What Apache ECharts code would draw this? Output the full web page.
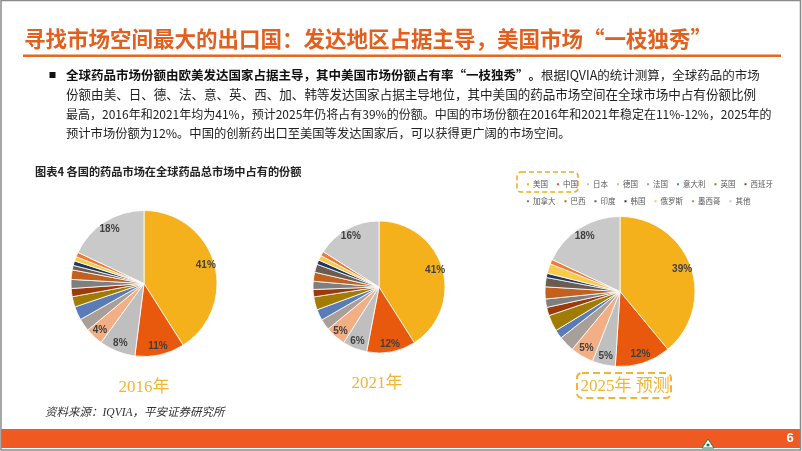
<!DOCTYPE html>
<html>
<head>
<meta charset="utf-8">
<script src="https://cdn.jsdelivr.net/npm/echarts@6/dist/echarts.min.js"></script>
<style>html,body{margin:0;padding:0;background:#fff;}#main{width:802px;height:451px;}</style>
</head>
<body>
<div id="main"></div>
<script>
// ---- data ----
const countries = ['美国','中国','日本','德国','法国','意大利','英国','西班牙','加拿大','巴西','印度','韩国','俄罗斯','墨西哥','其他'];
const share2016 = [41, 11, 8, 4, 2.8, 3, 2.3, 1.8, 2, 2.1, 1, 1, 1, 1, 18];
const share2021 = [41, 12, 6, 5, 2.7, 2.7, 3.2, 1.8, 2, 2.2, 2, 1.1, 1.2, 1.1, 16];
const share2025 = [39, 12, 5, 5, 3.4, 1.9, 3.5, 1.8, 1.8, 2.6, 2, 0.9, 2.1, 1, 18];
const yearLabels = ['2016年', '2021年', '2025年 预测'];
const labelledCountries = ['美国','中国','日本','德国','其他'];
const legendRow1 = countries.slice(0, 8);
const legendRow2 = countries.slice(8);

const titleText = '寻找市场空间最大的出口国：发达地区占据主导，美国市场“一枝独秀”';
const paraBold = '全球药品市场份额由欧美发达国家占据主导，其中美国市场份额占有率“一枝独秀”。';
const paraLines = [
  '根据IQVIA的统计测算，全球药品的市场',
  '份额由美、日、德、法、意、英、西、加、韩等发达国家占据主导地位，其中美国的药品市场空间在全球市场中占有份额比例',
  '最高，2016年和2021年均为41%，预计2025年仍将占有39%的份额。中国的市场份额在2016年和2021年稳定在11%-12%，2025年的',
  '预计市场份额为12%。中国的创新药出口至美国等发达国家后，可以获得更广阔的市场空间。'
];
const captionText = '图表4 各国的药品市场在全球药品总市场中占有的份额';
const sourceText = '资料来源：IQVIA，平安证券研究所';
const pageNumber = '6';

// ---- style ----
const palette = ['#F5B11B','#E8590E','#BFBFBF','#F2AF86','#A89F99','#5B7BB6','#A17C05','#9C3A0A','#7F7F7F','#C2601F','#6B5C52','#23365F','#F8CB4A','#EF7A37','#C9C9C9'];
const cjk = '"Noto Sans CJK SC", "Noto Sans", sans-serif';
const serif = '"Liberation Serif", "Noto Sans CJK SC", serif';

const pies = [
  {data: share2016, center: [144, 283.5], r: 73},
  {data: share2021, center: [379, 287], r: 66},
  {data: share2025, center: [620, 291.5], r: 75}
];

const series = [];
pies.forEach(p => {
  series.push({
    type: 'pie', center: p.center, radius: [0, p.r], startAngle: 90, clockwise: true,
    silent: true, animation: false,
    data: countries.map((n, i) => ({name: n, value: p.data[i]})),
    itemStyle: {borderColor: '#ffffff', borderWidth: 0.8},
    label: {show: false}, labelLine: {show: false}
  });
});
pies.forEach(p => {
  series.push({
    type: 'pie', center: p.center, radius: [p.r * 0.68, p.r], startAngle: 90, clockwise: true,
    silent: true, animation: false, legendHoverLink: false,
    data: countries.map((n, i) => ({name: n, value: p.data[i]})),
    itemStyle: {color: 'rgba(0,0,0,0)', borderWidth: 0},
    emphasis: {disabled: true},
    label: {
      show: true, position: 'inside', color: '#404040', fontSize: 10, fontWeight: 'bold',
      fontFamily: '"Liberation Sans", Arial, sans-serif',
      formatter: pr => labelledCountries.indexOf(pr.name) >= 0 ? Math.round(pr.value) + '%' : ''
    },
    labelLine: {show: false}
  });
});

const legendCommon = {
  orient: 'horizontal', itemWidth: 4, itemHeight: 4, itemGap: 7, icon: 'rect',
  selectedMode: false,
  textStyle: {fontSize: 7.5, color: '#595959', fontFamily: cjk, padding: [0, 0, 0, -2]}
};

const graphic = [
  // page frame
  {type: 'rect', shape: {x: 1, y: 0.5, width: 799.5, height: 449.5}, style: {fill: 'none', stroke: '#8a8a8a', lineWidth: 1.5}, z: 10},
  // title
  {type: 'text', style: {text: titleText, x: 24, y: 39, fill: '#E2601E', fontSize: 21.5, fontWeight: 'bold', fontFamily: cjk, textVerticalAlign: 'middle'}},
  {type: 'rect', shape: {x: 23, y: 54.5, width: 758, height: 2.5}, style: {fill: '#E8661E'}},
  // bullet
  {type: 'rect', shape: {x: 49.5, y: 72, width: 6, height: 6}, style: {fill: '#111'}},
  {type: 'text', style: {
    text: '{b|' + paraBold + '}{n|' + paraLines[0] + '}', x: 66, y: 75, textVerticalAlign: 'middle',
    rich: {b: {fontSize: 12.5, fontWeight: 'bold', fill: '#111', fontFamily: cjk}, n: {fontSize: 12.5, fill: '#222', fontFamily: cjk}}
  }},
  {type: 'text', style: {text: paraLines[1], x: 66, y: 94.5, fontSize: 12.55, fill: '#222', fontFamily: cjk, textVerticalAlign: 'middle'}},
  {type: 'text', style: {text: paraLines[2], x: 66, y: 114, fontSize: 12, fill: '#222', fontFamily: cjk, textVerticalAlign: 'middle'}},
  {type: 'text', style: {text: paraLines[3], x: 66, y: 133.5, fontSize: 12.3, fill: '#222', fontFamily: cjk, textVerticalAlign: 'middle'}},
  // caption
  {type: 'text', style: {text: captionText, x: 35, y: 172, fontSize: 11.2, fontWeight: 'bold', fill: '#222', fontFamily: cjk, textVerticalAlign: 'middle'}},
  // legend highlight box
  {type: 'rect', shape: {x: 517, y: 172, width: 61, height: 20, r: 4}, style: {fill: 'none', stroke: '#F2AA1E', lineWidth: 1.5, lineDash: [5, 3]}},
  // year labels
  {type: 'text', style: {text: yearLabels[0], x: 144, y: 388, fontSize: 17, fill: '#F2B532', fontFamily: serif, textAlign: 'center', textVerticalAlign: 'middle'}},
  {type: 'text', style: {text: yearLabels[1], x: 377, y: 384, fontSize: 17, fill: '#F2B532', fontFamily: serif, textAlign: 'center', textVerticalAlign: 'middle'}},
  {type: 'text', style: {text: yearLabels[2], x: 625, y: 387, fontSize: 17, fill: '#F2B532', fontFamily: serif, textAlign: 'center', textVerticalAlign: 'middle'}},
  {type: 'rect', shape: {x: 577, y: 373, width: 94, height: 25, r: 5}, style: {fill: 'none', stroke: '#F2B532', lineWidth: 2, lineDash: [7, 4]}},
  // source
  {type: 'text', style: {text: sourceText, x: 45, y: 413, fontSize: 11.5, fontStyle: 'italic', fill: '#333', fontFamily: serif, textVerticalAlign: 'middle'}},
  // footer bar
  {type: 'rect', shape: {x: 1, y: 429, width: 799, height: 19}, style: {fill: '#F05A22'}},
  {type: 'polygon', shape: {points: [[702, 448], [708, 439], [714, 448]]}, style: {fill: '#ffffff', stroke: '#1E7A50', lineWidth: 1}},
  {type: 'circle', shape: {cx: 708, cy: 445, r: 1.6}, style: {fill: '#1E7A50'}},
  {type: 'text', style: {text: pageNumber, x: 790, y: 438.5, fontSize: 13, fontWeight: 'bold', fill: '#ffffff', fontFamily: '"Liberation Sans", sans-serif', textAlign: 'center', textVerticalAlign: 'middle'}}
];

const chart = echarts.init(document.getElementById('main'), null, {renderer: 'canvas'});
chart.setOption({
  backgroundColor: '#ffffff',
  animation: false,
  color: palette,
  legend: [
    Object.assign({}, legendCommon, {data: legendRow1, left: 520, top: 175.5}),
    Object.assign({}, legendCommon, {data: legendRow2, left: 520, top: 192.5})
  ],
  series: series,
  graphic: graphic
});
</script>
</body>
</html>
